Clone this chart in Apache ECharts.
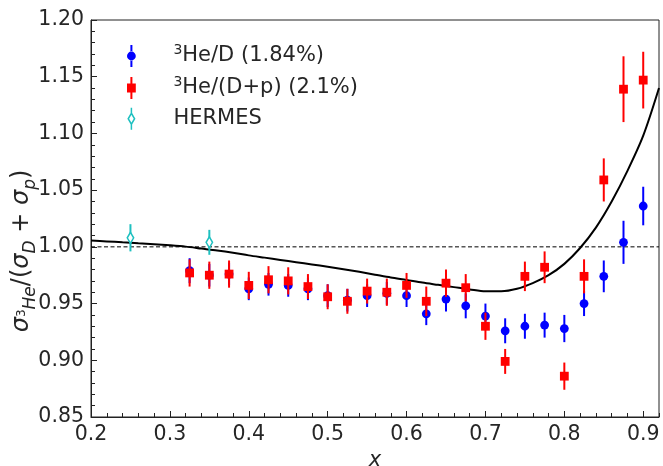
<!DOCTYPE html>
<html><head><meta charset="utf-8">
<script src="https://cdn.jsdelivr.net/npm/echarts@6/dist/echarts.min.js"></script>
<style>html,body{margin:0;padding:0;background:#fff}#c{width:663px;height:466px}</style>
</head><body><div id="c"></div>
<script>
// ---- data ----
const xValues = [0.325,0.35,0.375,0.40,0.425,0.45,0.475,0.50,0.525,0.55,0.575,0.60,0.625,0.65,0.675,0.70,0.725,0.75,0.775,0.80,0.825,0.85,0.875,0.90];
const blueY   = [0.979,0.975,0.976,0.963,0.967,0.966,0.963,0.957,0.953,0.957,0.959,0.957,0.941,0.954,0.948,0.939,0.926,0.930,0.931,0.928,0.950,0.974,1.004,1.036];
const blueErr = [0.011,0.010,0.010,0.010,0.010,0.010,0.010,0.010,0.010,0.010,0.010,0.010,0.010,0.011,0.011,0.011,0.011,0.011,0.011,0.012,0.011,0.014,0.019,0.017];
const redY    = [0.977,0.975,0.976,0.966,0.971,0.970,0.965,0.956,0.952,0.961,0.960,0.966,0.952,0.968,0.964,0.930,0.899,0.974,0.982,0.886,0.974,1.059,1.139,1.147];
const redErr  = [0.012,0.012,0.012,0.012,0.012,0.012,0.011,0.011,0.011,0.011,0.012,0.011,0.013,0.012,0.012,0.012,0.011,0.013,0.014,0.012,0.015,0.019,0.029,0.025];
const hermesX = [0.25,0.35];
const hermesY = [1.008,1.004];
const hermesErr = [0.012,0.011];
const curveX = [0.20,0.22,0.24,0.26,0.28,0.30,0.32,0.34,0.36,0.38,0.40,0.42,0.44,0.46,0.48,0.50,0.52,0.54,0.56,0.58,0.60,0.62,0.64,0.66,0.68,0.70,0.72,0.74,0.76,0.78,0.80,0.82,0.84,0.86,0.88,0.90,0.92];
const curveY = [1.0055,1.0048,1.0040,1.0032,1.0024,1.0014,1.0002,0.9985,0.9968,0.9948,0.9925,0.9905,0.9885,0.9865,0.9845,0.9825,0.9803,0.9780,0.9755,0.9730,0.9708,0.9685,0.9665,0.9645,0.9625,0.9608,0.9608,0.9630,0.9680,0.9750,0.9850,0.9990,1.0170,1.0400,1.0670,1.0980,1.1400];
const refLineX = [0.2,0.92];
const refLineY = [1.0,1.0];

const BLUE = '#0000ff', RED = '#ff0000', CYAN = '#1ec0c0', TXT = '#262626', AX = '#222';
const FONT = 'DejaVu Sans';

function triples(xs, ys, es){ return xs.map((x,i)=>[x, ys[i], es[i]]); }
function pairs(xs, ys){ return xs.map((x,i)=>[x, ys[i]]); }

function errRender(shape, color){
  return function(params, api){
    const x = api.value(0), y = api.value(1), e = api.value(2);
    const t = api.coord([x, y+e]), b = api.coord([x, y-e]), c = api.coord([x, y]);
    const ch = [{type:'line', shape:{x1:t[0],y1:t[1],x2:b[0],y2:b[1]}, style:{stroke:color, lineWidth:2}}];
    if (shape === 'circle') ch.push({type:'circle', shape:{cx:c[0],cy:c[1],r:4.4}, style:{fill:color}});
    else if (shape === 'square') ch.push({type:'rect', shape:{x:c[0]-4.4,y:c[1]-4.4,width:8.8,height:8.8}, style:{fill:color}});
    else ch.push({type:'polygon', shape:{points:[[c[0],c[1]-5.5],[c[0]+3.2,c[1]],[c[0],c[1]+5.5],[c[0]-3.2,c[1]]]}, style:{fill:'#fff', stroke:color, lineWidth:1.5}});
    return {type:'group', children:ch};
  };
}

const legendText = {
  He3D: '{g| }{sup|3}{n|He/D (1.84%)}',
  He3Dp: '{g| }{sup|3}{n|He/(D+p) (2.1%)}',
  HERMES: '{g| }{n|HERMES}'
};

const chart = echarts.init(document.getElementById('c'), null, {renderer:'canvas'});
chart.setOption({
  animation: false,
  backgroundColor: '#fff',
  grid: {left:91, right:4, top:20, bottom:49, show:true, borderColor:AX, borderWidth:1, backgroundColor:'transparent',
    containLabel:false, outerBoundsMode:'none'},
  xAxis: [{
    type:'value', min:0.2, max:0.92, interval:0.1,
    axisLine:{show:true, onZero:false, lineStyle:{color:AX, width:1}},
    axisTick:{show:true, inside:true, length:6, lineStyle:{color:AX}},
    splitLine:{show:false},
    axisLabel:{fontSize:20.5, fontFamily:FONT, color:TXT, margin:7, showMaxLabel:false,
      formatter: v => (Math.abs(v*10 - Math.round(v*10)) < 1e-6 ? v.toFixed(1) : '')},
    name:'x', nameLocation:'middle', nameGap:26,
    nameTextStyle:{fontSize:21, fontStyle:'italic', fontFamily:FONT, color:TXT}
  },{
    type:'value', min:0.2, max:0.92, interval:0.02, position:'bottom',
    axisLine:{show:false}, axisLabel:{show:false}, splitLine:{show:false},
    axisTick:{show:true, inside:true, length:4, lineStyle:{color:AX}}
  }],
  yAxis: {
    type:'value', min:0.85, max:1.20, interval:0.05,
    axisLine:{show:true, onZero:false, lineStyle:{color:AX, width:1}},
    axisTick:{show:true, inside:true, length:6, lineStyle:{color:AX}},
    minorTick:{show:true, splitNumber:5, length:4, lineStyle:{color:AX}},
    splitLine:{show:false},
    axisLabel:{fontSize:20.5, fontFamily:FONT, color:TXT, margin:7, formatter: v => v.toFixed(2)}
  },
  graphic: [{
    type:'text', x:22, y:251, rotation:Math.PI/2, z:10,
    style:{
      text:'{s|σ}{sup|3}{sub|He}{n|/(}{s|σ}{sub|D}{n| + }{s|σ}{sub|p}{n|)}',
      align:'center', verticalAlign:'middle', fill:TXT,
      rich:{
        s:{fontSize:24, fontStyle:'italic', fontFamily:FONT, fill:TXT, lineHeight:34},
        n:{fontSize:24, fontFamily:FONT, fill:TXT, lineHeight:34},
        sub:{fontSize:17, fontStyle:'italic', fontFamily:FONT, fill:TXT, lineHeight:16, verticalAlign:'bottom'},
        sup:{fontSize:12, fontFamily:FONT, fill:TXT, lineHeight:12, verticalAlign:'middle'}
      }
    }
  }],
  legend: {
    orient:'vertical', left:122, top:38, itemWidth:20, itemHeight:22, itemGap:8,
    symbolKeepAspect:true, selectedMode:false,
    formatter: name => legendText[name],
    textStyle:{color:TXT, fontFamily:FONT, fontSize:21,
      rich:{
        g:{width:27, fontSize:21, lineHeight:26},
        n:{fontSize:21, fontFamily:FONT, color:TXT, lineHeight:26},
        sup:{fontSize:14, fontFamily:FONT, color:TXT, lineHeight:14, verticalAlign:'top'}
      }},
    data:[
      {name:'He3D', icon:'path://M9,0h2v7h-2zM9,15h2v7h-2zM5.6,11a4.4,4.4 0 1,0 8.8,0a4.4,4.4 0 1,0 -8.8,0z', itemStyle:{color:BLUE, borderWidth:0}},
      {name:'He3Dp', icon:'path://M9,0h2v7h-2zM9,15h2v7h-2zM5.6,6.6h8.8v8.8h-8.8z', itemStyle:{color:RED, borderWidth:0}},
      {name:'HERMES', icon:'path://M10,0V5.5M10,16.5V22M10,5.5L13.2,11L10,16.5L6.8,11Z', itemStyle:{color:'#fff', borderColor:CYAN, borderWidth:1.5}}
    ]
  },
  series: [
    {type:'line', name:'curve', data:pairs(curveX, curveY), smooth:0.3, showSymbol:false, symbol:'none',
      lineStyle:{color:'#000', width:2}, z:2, silent:true},
    {type:'line', name:'ref', data:pairs(refLineX, refLineY), showSymbol:false, symbol:'none',
      lineStyle:{color:'#000', width:1, type:[4,2.5]}, z:2, silent:true},
    {type:'custom', name:'He3D', data:triples(xValues, blueY, blueErr), renderItem:errRender('circle', BLUE),
      encode:{x:0, y:1}, z:3, itemStyle:{color:BLUE}},
    {type:'custom', name:'He3Dp', data:triples(xValues, redY, redErr), renderItem:errRender('square', RED),
      encode:{x:0, y:1}, z:4, itemStyle:{color:RED}},
    {type:'custom', name:'HERMES', data:triples(hermesX, hermesY, hermesErr), renderItem:errRender('diamond', CYAN),
      encode:{x:0, y:1}, z:5, itemStyle:{color:CYAN}}
  ]
});
</script></body></html>
